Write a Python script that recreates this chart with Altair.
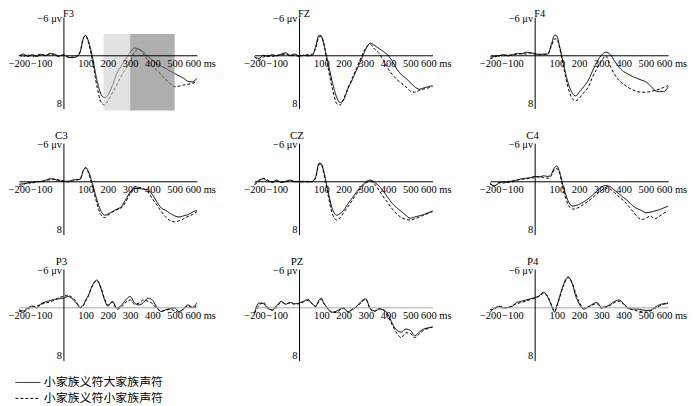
import altair as alt
import pandas as pd

# time points (ms)
T = [-200, -180, -160, -140, -120, -100, -80, -60, -40, -20, 0, 20, 40, 60,
     75, 90, 100, 110, 130, 150, 170, 185,
     200, 220, 240, 260, 280, 300, 320, 340, 360, 380, 400, 420, 440, 460,
     480, 500, 520, 540, 560, 580, 600]

LABEL_A = "小家族义符大家族声符"
LABEL_B = "小家族义符小家族声符"

ELECTRODES = ["F3", "FZ", "F4", "C3", "CZ", "C4", "P3", "PZ", "P4"]

F3_A = [0.1, -0.2, 0.2, -0.1, 0.2, -0.1, 0.0, -0.3, -0.2, 0.1, -0.1, 0.3, 0.4, 0.2,
        -0.5, -2.8, -3.3, -2.6, 0.2, 4.0, 6.5, 7.0,
        6.6, 5.0, 3.0, 1.8, 0.6, -0.5, -1.2, -1.0, -0.5, 0.2, 0.8, 1.4, 1.8, 2.2,
        2.6, 3.0, 3.4, 3.8, 4.3, 4.4, 3.8]
F3_B = [0.0, 0.2, -0.1, 0.2, 0.0, -0.2, 0.1, -0.2, 0.0, 0.2, 0.0, 0.3, 0.3, 0.1,
        -0.6, -2.9, -3.2, -2.4, 0.8, 5.0, 7.8, 8.2,
        7.5, 6.2, 4.9, 3.4, 2.2, 1.1, -0.6, -1.0, -0.2, 0.9, 1.8, 2.5, 3.2, 4.0,
        4.7, 5.2, 5.1, 4.9, 4.8, 4.6, 4.4]

FZ_A = [0.3, 0.5, 0.0, 0.2, -0.1, 0.1, -0.2, -0.4, 0.0, -0.2, 0.1, 0.0, 0.1, 0.0,
        -1.5, -3.3, -3.2, -2.0, 1.2, 4.5, 7.0, 7.8,
        7.4, 5.5, 4.0, 2.3, 0.7, -1.0, -2.0, -1.6, -1.1, -0.6, 0.0, 1.0, 2.3, 3.2,
        3.8, 4.5, 5.2, 5.6, 5.4, 5.2, 5.0]
FZ_B = [0.2, 0.8, 0.3, 0.1, 0.2, 0.0, -0.1, -0.2, 0.1, 0.0, 0.2, 0.0, -0.1, -0.2,
        -1.2, -3.0, -3.1, -2.2, 2.0, 5.5, 8.0, 8.2,
        7.2, 5.4, 3.7, 2.0, 0.3, -1.2, -1.8, -1.0, -0.3, 0.9, 2.2, 3.2, 4.0, 4.6,
        5.2, 5.9, 6.1, 5.8, 5.6, 5.4, 5.2]

F4_A = [0.3, 0.2, 0.1, -0.1, 0.1, -0.1, -0.3, -0.2, -0.5, -0.4, -0.3, -0.1, -0.2, -0.2,
        -1.8, -3.3, -3.2, -1.8, 1.5, 4.5, 6.3, 6.7,
        6.1, 5.2, 4.2, 2.6, 1.1, 0.0, -0.5, -0.1, 1.0, 2.0, 2.7, 3.1, 3.5, 3.8,
        4.1, 4.4, 5.0, 5.8, 6.0, 6.0, 5.2]
F4_B = [0.6, 0.3, 0.0, 0.1, -0.1, 0.0, -0.2, -0.3, -0.2, -0.4, -0.2, -0.2, -0.1, -0.3,
        -1.5, -2.7, -2.7, -1.5, 2.0, 5.3, 7.2, 7.5,
        7.1, 6.2, 5.3, 3.6, 2.2, 1.0, 0.1, 1.8, 3.2, 4.2, 4.8, 5.3, 5.7, 6.0,
        6.1, 6.1, 6.0, 5.8, 5.6, 5.3, 5.0]

C3_A = [0.5, 0.4, 0.3, 0.2, 0.1, 0.0, -0.2, -0.4, -0.3, -0.1, 0.0, 0.0, -0.2, -0.3,
        -0.3, -1.8, -2.3, -1.8, 0.3, 3.0, 5.0, 5.6,
        5.4, 5.0, 4.6, 4.2, 3.0, 1.8, 1.2, 1.2, 1.3, 1.4, 2.2, 3.4, 4.4, 4.8,
        5.3, 5.7, 5.9, 5.7, 5.5, 5.1, 4.8]
C3_B = [0.9, 0.6, 0.2, 0.3, 0.0, 0.1, -0.1, -0.3, -0.4, -0.2, -0.1, 0.1, 0.0, -0.2,
        -0.4, -1.9, -2.2, -1.6, 0.8, 3.6, 5.6, 6.0,
        5.6, 5.1, 4.7, 4.4, 3.4, 2.0, 0.9, 1.0, 1.2, 1.8, 2.9, 3.9, 5.0, 5.9,
        6.5, 6.7, 6.5, 6.2, 5.8, 5.5, 5.0]

CZ_A = [0.4, -0.2, -0.4, 0.0, 0.1, -0.2, 0.2, 0.0, -0.2, 0.1, 0.0, 0.0, 0.1, 0.0,
        -0.8, -3.0, -2.9, -1.8, 1.6, 4.6, 5.6, 5.3,
        4.8, 3.7, 2.7, 1.7, 0.8, 0.1, -0.2, 0.2, 0.8, 1.7, 2.7, 3.7, 4.4, 5.0,
        5.6, 6.1, 5.9, 5.7, 5.5, 5.2, 4.9]
CZ_B = [0.6, 0.0, -0.5, -0.2, 0.2, 0.0, 0.1, 0.1, -0.1, 0.0, 0.1, 0.1, 0.0, 0.1,
        -0.6, -2.8, -2.8, -1.5, 2.2, 5.4, 6.4, 6.0,
        5.2, 4.2, 3.1, 2.0, 1.0, 0.3, 0.0, 0.5, 1.5, 2.6, 3.6, 4.6, 5.4, 6.0,
        6.3, 6.4, 6.2, 5.9, 5.6, 5.3, 5.0]

C4_A = [0.5, 0.7, 0.3, 0.1, 0.2, -0.1, -0.2, -0.4, -0.5, -0.6, -0.8, -0.7, -0.9, -0.8,
        -1.2, -2.3, -2.5, -1.8, 1.0, 3.2, 4.1, 4.0,
        3.8, 3.4, 2.9, 2.3, 1.6, 1.0, 0.7, 0.9, 1.5, 2.1, 2.7, 3.3, 4.0, 4.5,
        4.8, 5.2, 5.1, 4.9, 4.7, 4.4, 4.1]
C4_B = [0.3, 0.8, 0.2, 0.3, 0.0, 0.1, -0.2, -0.3, -0.4, -0.5, -0.6, -0.8, -0.6, -0.5,
        -0.9, -2.0, -2.1, -1.5, 1.6, 3.8, 4.6, 4.5,
        4.3, 3.8, 3.3, 2.7, 2.1, 1.5, 1.1, 1.3, 1.9, 2.6, 3.2, 4.0, 4.9, 5.8,
        6.3, 6.1, 5.7, 6.2, 5.8, 5.3, 4.9]

P3_A = [0.4, 0.6, 0.1, -0.2, 0.1, -0.6, -0.9, -1.1, -1.3, -1.4, -1.5, -1.8, -1.4, -0.6,
        0.0, -0.4, -1.2, -1.8, -3.6, -4.5, -3.0, -1.2,
        -0.2, -1.0, 0.1, -0.3, -1.2, -1.8, -0.7, -0.4, -0.8, -1.5, -1.2, 0.0, 0.7, 0.4,
        0.2, 0.1, 0.7, 0.3, -0.4, 0.0, -0.7]
P3_B = [0.6, 0.8, 0.3, -0.1, -0.2, -0.5, -0.7, -0.9, -1.2, -1.6, -1.8, -2.0, -1.6, -0.8,
        0.1, -0.3, -1.0, -1.7, -3.5, -4.4, -3.1, -1.4,
        -0.4, -0.8, 0.3, 0.0, -0.8, -1.2, -0.5, -0.7, -1.2, -1.0, -0.6, 0.2, 0.6, 0.5,
        0.3, 0.6, 0.8, 0.2, -0.2, 0.1, -0.3]

PZ_A = [0.9, -0.7, -0.6, 0.2, 0.4, -0.3, -1.0, -0.5, -0.8, -0.6, -0.7, -1.0, -1.3, -0.5,
        -0.2, -1.2, -1.5, -0.8, 0.2, 0.8, 0.6, 0.3,
        0.1, 0.7, 0.4, -0.2, -1.0, -1.4, 0.2, 0.6, 0.3, 0.4, 1.2, 2.7, 3.8, 4.1,
        3.6, 3.8, 4.7, 4.1, 3.6, 3.4, 3.3]
PZ_B = [1.0, -0.3, -0.8, 0.0, 0.5, -0.1, -0.8, -0.6, -0.7, -0.5, -0.6, -0.9, -1.1, -0.6,
        -0.1, -1.0, -1.3, -0.7, 0.3, 0.9, 0.8, 0.4,
        0.2, 0.8, 0.3, -0.1, -0.8, -1.3, 0.3, 0.7, 0.2, 0.5, 1.5, 3.0, 4.3, 5.0,
        4.2, 4.3, 5.0, 4.4, 3.8, 3.5, 3.2]

P4_A = [0.8, 0.1, -0.1, 0.1, 0.0, -0.2, -0.8, -1.0, -1.2, -1.4, -1.6, -1.9, -2.5, -1.6,
        -0.3, 0.8, -0.3, -1.5, -3.8, -5.0, -3.8, -1.8,
        -0.6, 0.3, 0.0, -0.5, -0.8, 0.0, -0.1, -0.5, -1.0, -1.2, -0.6, 0.1, 0.3, 0.3,
        0.4, 0.5, 0.5, 0.0, -0.4, -0.6, -0.7]
P4_B = [0.4, 0.3, -0.2, 0.0, 0.1, -0.3, -0.6, -0.8, -1.0, -1.3, -1.5, -1.8, -2.3, -1.7,
        -0.5, 0.6, -0.2, -1.3, -3.6, -4.9, -3.9, -2.2,
        -0.9, 0.1, -0.1, -0.4, -0.6, 0.2, 0.0, -0.3, -0.8, -1.0, -0.5, 0.2, 0.4, 0.6,
        0.7, 0.8, 0.6, 0.2, -0.2, -0.5, -0.6]

SERIES_A = [F3_A, FZ_A, F4_A, C3_A, CZ_A, C4_A, P3_A, PZ_A, P4_A]
SERIES_B = [F3_B, FZ_B, F4_B, C3_B, CZ_B, C4_B, P3_B, PZ_B, P4_B]

# analysis windows shaded in the F3 panel
SHADE_START = [180, 300]
SHADE_END = [300, 500]
SHADE_TOP = [-3.5, -3.5]
SHADE_BOTTOM = [9.1, 9.1]
SHADE_COLOR = ["#cfcfcf", "#7a7a7a"]

X_DOMAIN = [-200, 600]
Y_DOMAIN = [-6.3, 8.8]
X_TICKS = [-200, -100, 0, 100, 200, 300, 400, 500, 600]
Y_TICKS = [-6, 8]

W, H = 179, 92
SERIF = "Liberation Serif"
CJK = "Noto Sans CJK SC"


def panel(idx):
    name = ELECTRODES[idx]
    a, b = SERIES_A[idx], SERIES_B[idx]
    row = idx // 3
    axis_color = "#a6a6a6" if row == 2 else "black"
    df = pd.DataFrame({
        "t": T + T,
        "v": a + b,
        "cond": [LABEL_A] * len(T) + [LABEL_B] * len(T),
    })
    xscale = alt.Scale(domain=X_DOMAIN, nice=False, zero=False)
    yscale = alt.Scale(domain=Y_DOMAIN, reverse=True, nice=False, zero=False)
    y_off = -H * Y_DOMAIN[1] / (Y_DOMAIN[1] - Y_DOMAIN[0])
    x_off = -W * (0 - X_DOMAIN[0]) / (X_DOMAIN[1] - X_DOMAIN[0])
    xaxis = alt.Axis(
        title=None, values=X_TICKS, offset=y_off, ticks=False, grid=False,
        labelExpr="datum.value == 600 ? '600 ms' : (datum.value == 0 ? '' : datum.label)",
        labelAlign={"condition": {"test": "datum.value == 600", "value": "left"}, "value": "center"},
        labelOffset={"condition": {"test": "datum.value == 600", "value": -12}, "value": 0},
        domainColor=axis_color, domainWidth=1, labelFont=SERIF, labelFontSize=10.5,
        labelColor="black", labelPadding=3, labelOverlap=False, labelFlush=False,
        zindex=1,
    )
    yaxis = alt.Axis(
        title=None, values=Y_TICKS, offset=x_off, ticks=False, grid=False,
        labelExpr="datum.value < 0 ? '\u22126 \u03bcv' : '8'",
        domainColor="black", domainWidth=1, labelFont=SERIF, labelFontSize=10.5,
        labelColor="black", labelPadding=2, labelOverlap=False, labelFlush=False,
        zindex=1,
    )
    lines = alt.Chart(df).mark_line(strokeWidth=1, color="black", interpolate="monotone").encode(
        x=alt.X("t:Q", scale=xscale, axis=xaxis),
        y=alt.Y("v:Q", scale=yscale, axis=yaxis),
        strokeDash=alt.StrokeDash(
            "cond:N",
            scale=alt.Scale(domain=[LABEL_A, LABEL_B], range=[[1, 0], [3, 2]]),
            legend=alt.Legend(
                title=None, orient="none", legendX=-4, legendY=359.5,
                symbolType="stroke", symbolSize=625, symbolStrokeWidth=1,
                symbolStrokeColor="black", labelFont=CJK, labelFontSize=12,
                labelColor="black", labelOffset=3, clipHeight=16, rowPadding=0,
                padding=0,
            ),
        ),
        detail="cond:N",
    )
    tdf = pd.DataFrame({"t": [0], "v": [Y_DOMAIN[0]], "name": [name]})
    if row == 0:
        title_mark = alt.Chart(tdf).mark_text(
            font=SERIF, fontSize=10.5, baseline="alphabetic", align="center", dy=0, dx=5, color="black"
        )
    else:
        title_mark = alt.Chart(tdf).mark_text(
            font=SERIF, fontSize=11, baseline="alphabetic", align="center", dy=-4, dx=-2, color="black"
        )
    title = title_mark.encode(
        x=alt.X("t:Q", scale=xscale, axis=xaxis),
        y=alt.Y("v:Q", scale=yscale, axis=yaxis),
        text="name:N",
    )
    layers = [lines]
    if name == "F3":
        sdf = pd.DataFrame({"s": SHADE_START, "e": SHADE_END, "top": SHADE_TOP,
                            "bot": SHADE_BOTTOM, "c": SHADE_COLOR})
        rect = alt.Chart(sdf).mark_rect(opacity=0.6).encode(
            x=alt.X("s:Q", scale=xscale, axis=xaxis),
            x2="e:Q",
            y=alt.Y("top:Q", scale=yscale, axis=yaxis),
            y2="bot:Q",
            color=alt.Color("c:N", scale=None),
        )
        layers.append(rect)
    layers.append(title)
    return alt.layer(*layers).properties(width=W, height=H)


panels = [panel(i) for i in range(9)]

chart = alt.concat(
    *panels, columns=3, spacing={"row": 34.75, "column": 58}, bounds="flush"
).properties(
    padding={"left": 0, "top": 0, "right": 5, "bottom": 0}
).configure_view(strokeWidth=0)

chart.save("out.html", embed_options={"renderer": "svg", "actions": False})
